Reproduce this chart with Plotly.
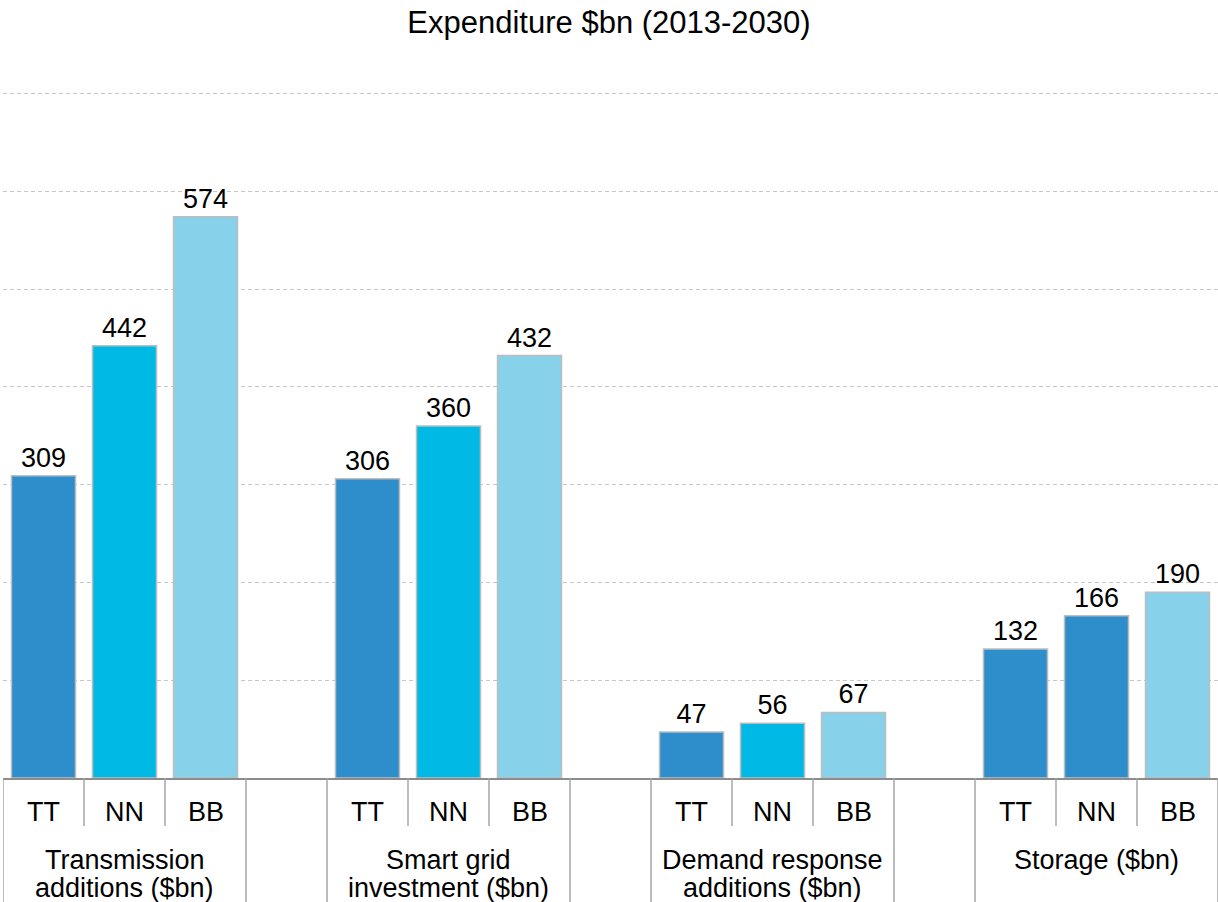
import plotly.graph_objects as go

groups_line1 = ["Transmission", "Smart grid", "Demand response", "Storage ($bn)"]
groups_line2 = ["additions ($bn)", "investment ($bn)", "additions ($bn)", ""]
series = ["TT", "NN", "BB"]
tt_vals = [309, 306, 47, 132]
nn_vals = [442, 360, 56, 166]
bb_vals = [574, 432, 67, 190]
tt_colors = ["#2E8DCB", "#2E8DCB", "#2E8DCB", "#2E8DCB"]
nn_colors = ["#00B9E4", "#00B9E4", "#00B9E4", "#2E8DCB"]
bb_colors = ["#87D1EA", "#87D1EA", "#87D1EA", "#87D1EA"]

FONT = "Liberation Sans, Arial, sans-serif"
FS = 27
fig = go.Figure()
for si, (name, vals, cols) in enumerate(zip(series, [tt_vals, nn_vals, bb_vals],
                                             [tt_colors, nn_colors, bb_colors])):
    xs = [g * 4 + si for g in range(len(groups_line1))]
    fig.add_trace(go.Bar(
        x=xs, y=vals, name=name, width=0.79,
        marker=dict(color=cols, line=dict(color="#BDBDBD", width=1.5)),
        text=[str(v) for v in vals], textposition="outside",
        textfont=dict(size=FS, color="black", family=FONT),
        cliponaxis=False, showlegend=False, hoverinfo="skip",
    ))

T, B = 92, 124
plot_h = 902 - T - B
shapes = []
annotations = []
for g in range(len(groups_line1)):
    base = g * 4
    for xb in (base - 0.5, base + 2.5):
        shapes.append(dict(type="line", xref="x", yref="paper", x0=xb, x1=xb,
                           y0=0, y1=-B / plot_h, line=dict(color="#A6A6A6", width=1.5)))
    for xb in (base + 0.5, base + 1.5):
        shapes.append(dict(type="line", xref="x", yref="paper", x0=xb, x1=xb,
                           y0=0, y1=-48 / plot_h, line=dict(color="#A6A6A6", width=1.5)))
    for si, s in enumerate(series):
        annotations.append(dict(x=base + si, y=0, xref="x", yref="paper", text=s,
                                showarrow=False, yanchor="middle", yshift=-34,
                                font=dict(size=FS, color="black", family=FONT)))
    annotations.append(dict(x=base + 1, y=0, xref="x", yref="paper", text=groups_line1[g],
                            showarrow=False, yanchor="middle", yshift=-82,
                            font=dict(size=FS, color="black", family=FONT)))
    if groups_line2[g]:
        annotations.append(dict(x=base + 1, y=0, xref="x", yref="paper", text=groups_line2[g],
                                showarrow=False, yanchor="middle", yshift=-110,
                                font=dict(size=FS, color="black", family=FONT)))

fig.update_layout(
    width=1218, height=902,
    margin=dict(l=3, r=0, t=T, b=B),
    paper_bgcolor="white", plot_bgcolor="white",
    title=dict(text="Expenditure $bn (2013-2030)", x=0.5, xanchor="center",
               y=1 - 22 / 902, yanchor="middle",
               font=dict(size=31, color="black", family=FONT)),
    barmode="overlay",
    xaxis=dict(range=[-0.5, 14.5], showticklabels=False, showgrid=False,
               zeroline=False, showline=True, linecolor="#8C8C8C", linewidth=2,
               ticks=""),
    yaxis=dict(range=[0, 701.5], tickvals=[100, 200, 300, 400, 500, 600, 700],
               showticklabels=False, showgrid=True,
               gridcolor="#C8C8C8", griddash="4px,3px", gridwidth=1,
               zeroline=False, showline=False, ticks=""),
    shapes=shapes, annotations=annotations,
    font=dict(family=FONT),
)

fig.write_html("out.html", config={"displayModeBar": False},
               post_script="document.body.style.margin='0';")
